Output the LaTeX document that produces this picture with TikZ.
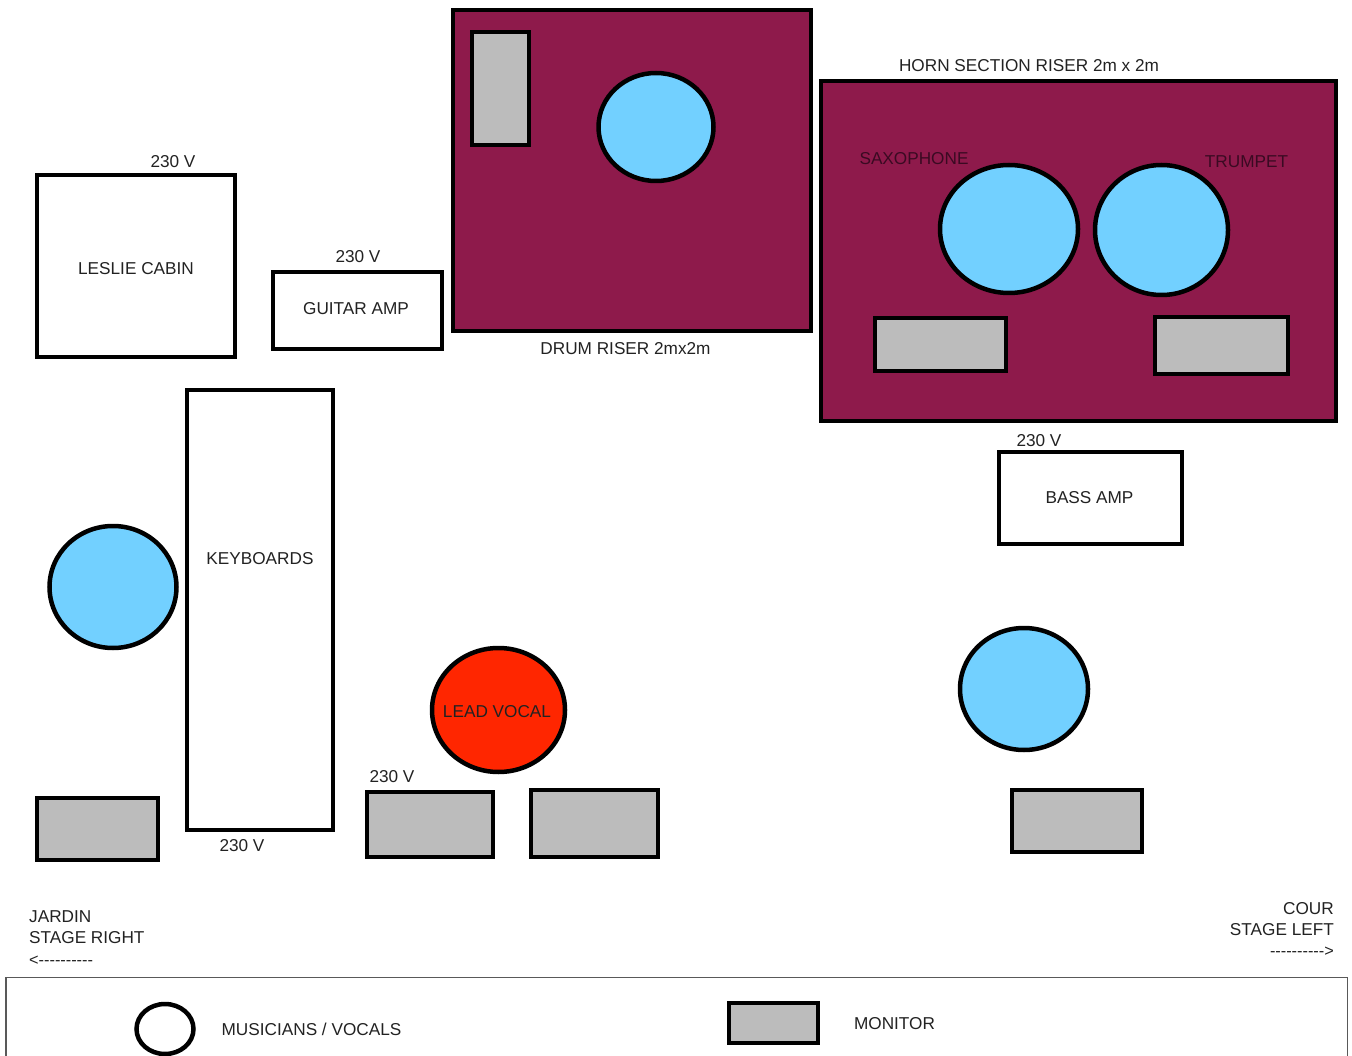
\documentclass[tikz,border=0pt]{standalone}
\usepackage{fontspec}
\setmainfont{Liberation Sans}
\usetikzlibrary{shapes.geometric}
\definecolor{RiserRed}{HTML}{8E1A4B}
\definecolor{PlayerBlue}{HTML}{72D0FF}
\definecolor{VocalRed}{HTML}{FF2600}
\definecolor{MonitorGrey}{HTML}{BCBCBC}
\definecolor{LabelInk}{HTML}{222222}
\definecolor{RiserInk}{HTML}{3A0A22}
\tikzset{
  lbl/.style={font=\fontsize{17.2}{20}\selectfont,text=LabelInk,inner sep=0pt},
  box/.style={draw=black,line width=4pt,inner sep=0pt,rectangle,lbl,fill=white},
  riser/.style={box,fill=RiserRed},
  monitor/.style={box,fill=MonitorGrey},
  player/.style={draw=black,line width=4.5pt,inner sep=0pt,ellipse,fill=PlayerBlue},
}
\begin{document}
\begin{tikzpicture}[x=1pt,y=-1pt]
  \useasboundingbox (0,0) rectangle (1352,1056);
  % risers
  \node[riser,minimum width=358pt,minimum height=321pt] (drumriser) at (632,170.5) {};
  \node[riser,minimum width=515pt,minimum height=340pt] (hornriser) at (1078.5,251) {};
  \node[monitor,minimum width=57pt,minimum height=113pt] (drummon) at (500.5,88.5) {};
  \node[player,minimum width=115pt,minimum height=108pt] (drummer) at (656,127) {};
  \node[lbl] (drumlbl) at (625.5,349) {DRUM RISER 2mx2m};
  \node[lbl] (hornlbl) at (1029,66) {HORN SECTION RISER 2m x 2m};
  \node[lbl,text=RiserInk] (saxlbl) at (914,159) {SAXOPHONE};
  \node[lbl,text=RiserInk] (trumpetlbl) at (1246.5,162) {TRUMPET};
  \node[player,minimum width=138pt,minimum height=128pt] (sax) at (1009,229) {};
  \node[player,minimum width=133pt,minimum height=130pt] (trumpet) at (1161.5,230) {};
  \node[monitor,minimum width=131pt,minimum height=53pt] (saxmon) at (940.5,344.5) {};
  \node[monitor,minimum width=133pt,minimum height=57pt] (trumpetmon) at (1221.5,345.5) {};
  % backline
  \node[box,minimum width=198pt,minimum height=182pt] (leslie) at (136,266) {};
  \node[lbl] (leslielbl) at (136,268.5) {LESLIE CABIN};
  \node[lbl] (lesliev) at (173,162) {230 V};
  \node[box,minimum width=169pt,minimum height=77pt] (guitar) at (357.5,310.5) {};
  \node[lbl] (guitarlbl) at (356,309) {GUITAR AMP};
  \node[lbl] (guitarv) at (358,257) {230 V};
  \node[box,minimum width=146pt,minimum height=440pt] (keys) at (260,610) {};
  \node[lbl] (keyslbl) at (260,559) {KEYBOARDS};
  \node[lbl] (keysv) at (242,846) {230 V};
  \node[box,minimum width=183pt,minimum height=92pt] (bass) at (1090.5,498) {};
  \node[lbl] (basslbl) at (1089.5,498) {BASS AMP};
  \node[lbl] (bassv) at (1039,441) {230 V};
  % front line
  \node[player,minimum width=127pt,minimum height=122pt] (keyplayer) at (113,587) {};
  \node[player,fill=VocalRed,minimum width=133pt,minimum height=124pt] (vocal) at (498.5,710) {};
  \node[lbl] (vocallbl) at (497,712) {LEAD VOCAL};
  \node[player,minimum width=128pt,minimum height=122pt] (bassplayer) at (1024,689) {};
  \node[monitor,minimum width=121pt,minimum height=62pt] (keymon) at (97.5,829) {};
  \node[monitor,minimum width=126pt,minimum height=65pt] (vocalmona) at (430,824.5) {};
  \node[lbl] (vocalv) at (392,777) {230 V};
  \node[monitor,minimum width=127pt,minimum height=67pt] (vocalmonb) at (594.5,823.5) {};
  \node[monitor,minimum width=130pt,minimum height=62pt] (bassmon) at (1077,821) {};
  % sides
  \node[lbl,anchor=west] (jardin) at (29,917) {JARDIN};
  \node[lbl,anchor=west] (stageright) at (29,938) {STAGE RIGHT};
  \node[lbl,anchor=west,font=\fontsize{16.3}{18}\selectfont] (arrowright) at (29,961) {<{-}{-}{-}{-}{-}{-}{-}{-}{-}{-}};
  \node[lbl,anchor=east] (cour) at (1334,909) {COUR};
  \node[lbl,anchor=east] (stageleft) at (1334,930) {STAGE LEFT};
  \node[lbl,anchor=east,font=\fontsize{16.3}{18}\selectfont] (arrowleft) at (1334,952) {{-}{-}{-}{-}{-}{-}{-}{-}{-}{-}>};
  % legend
  \draw[draw=black!65,line width=1.4pt] (6,1060) -- (6,977.5) -- (1347.5,977.5) -- (1347.5,1060);
  \node[player,fill=white,minimum width=57pt,minimum height=50pt] (legcircle) at (165,1029) {};
  \node[lbl] (legcirclelbl) at (311.5,1029) {MUSICIANS / VOCALS};
  \node[monitor,minimum width=89pt,minimum height=40pt] (legmon) at (773.5,1023) {};
  \node[lbl] (legmonlbl) at (894.5,1024) {MONITOR};
\end{tikzpicture}
\end{document}
